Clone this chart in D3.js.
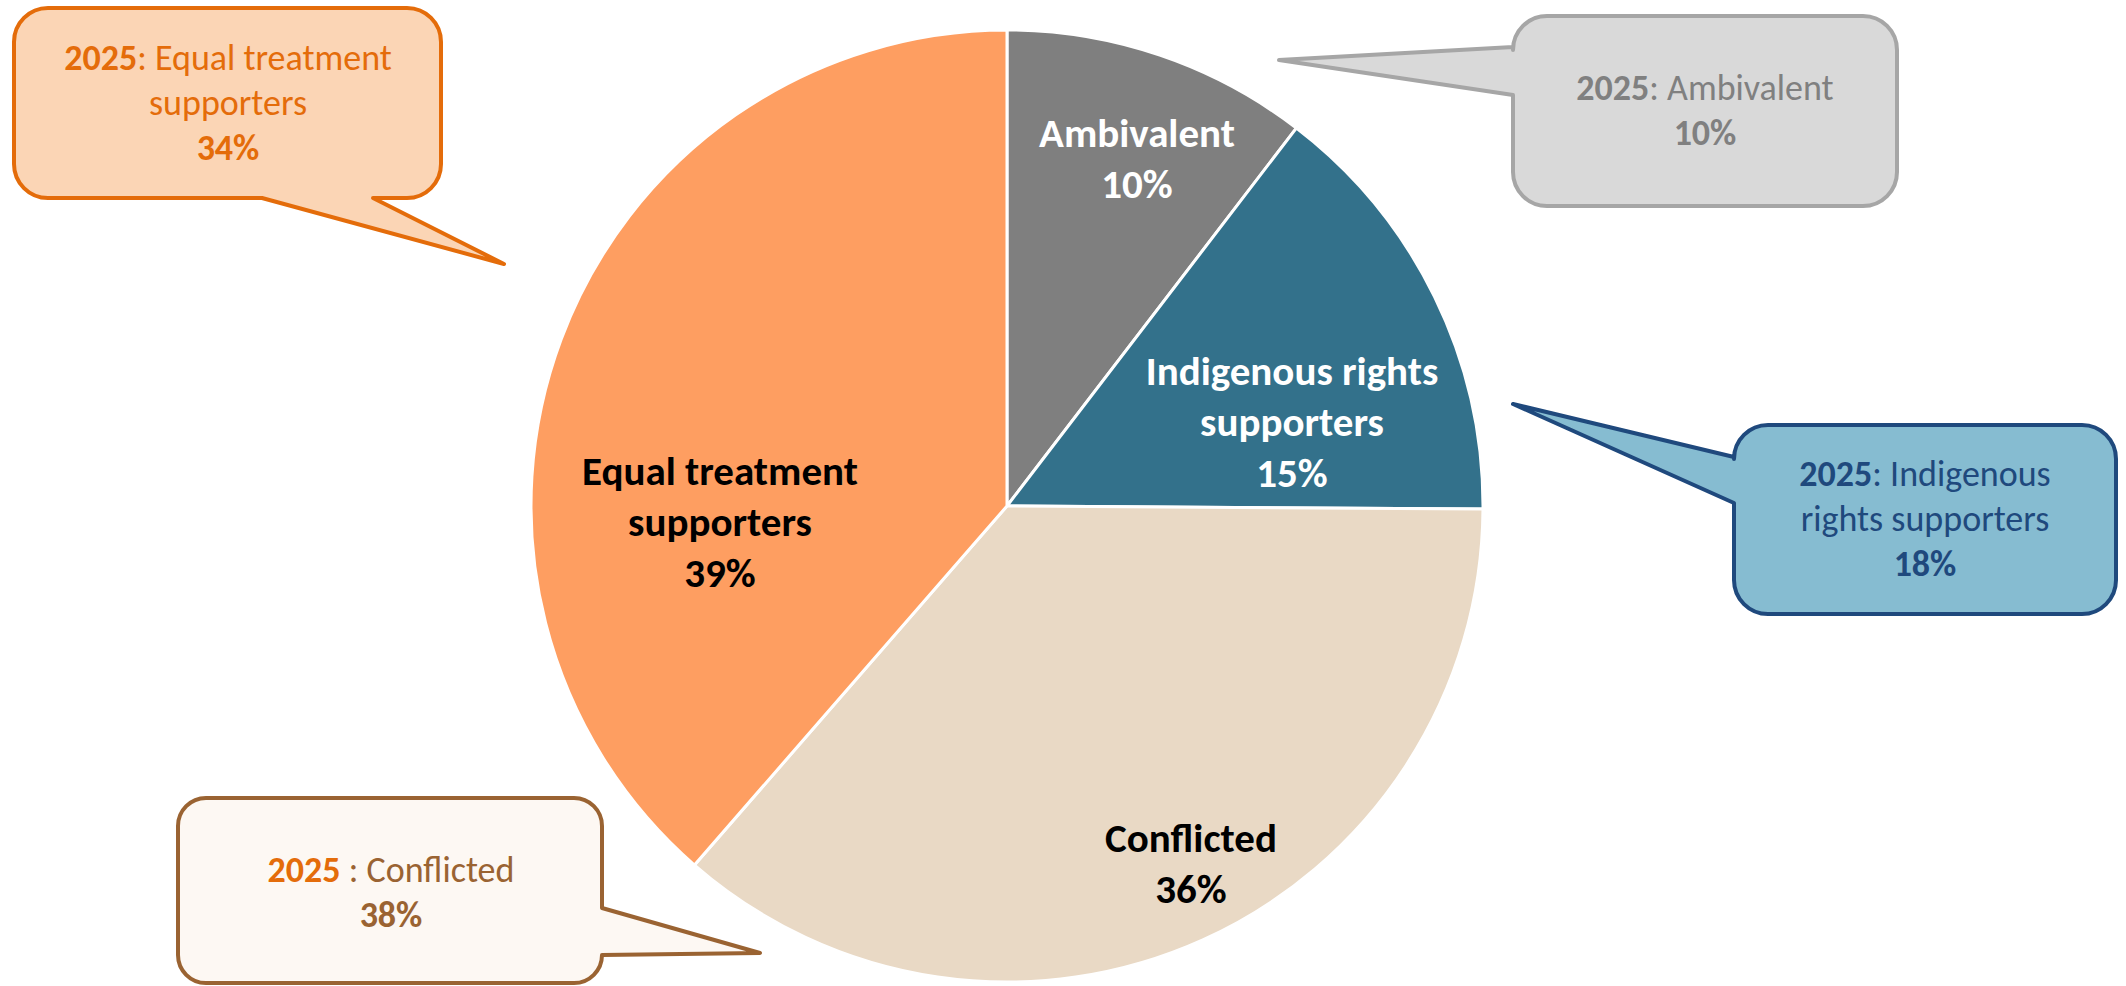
<!DOCTYPE html>
<html>
<head>
    <meta charset="utf-8">
    <style>
        body { margin: 0; background: #fff; }
        text { font-family: Carlito, Calibri, Lato, sans-serif; }
    </style>
</head>
<body>
    <script src="https://cdnjs.cloudflare.com/ajax/libs/d3/7.8.5/d3.min.js"></script>
    <script>
        // slices, clockwise from 12 o'clock (shares)
        var categories = ["Ambivalent", "Indigenous rights\nsupporters", "Conflicted", "Equal treatment\nsupporters"];
        var shares = [10.4, 14.7, 36.3, 38.6];
        var sliceColors = ["#7f7f7f", "#33718b", "#e9d9c5", "#fe9e61"];
        var labelColors = ["#ffffff", "#ffffff", "#000000", "#000000"];

        // 2025 comparison callouts
        var calloutYear = "2025";
        var calloutNames = ["Equal treatment\nsupporters", "Ambivalent", "Indigenous\nrights supporters", "Conflicted"];
        var calloutShares = [34, 10, 18, 38];

        var width = 2126, height = 986;
        var cx = 1007, cy = 506, radius = 476;
        var lineStep = 51;

        // first baseline of each slice label (absolute)
        var labelAnchors = [[1137, 147], [1292, 385], [1191, 852], [720, 485]];

        var svg = d3.select("body").append("svg")
            .attr("width", width)
            .attr("height", height);

        var pie = d3.pie().sort(null).value(function (d) { return d; });
        var arc = d3.arc().innerRadius(0).outerRadius(radius);

        var slices = pie(shares);

        svg.append("g")
            .attr("transform", "translate(" + cx + "," + cy + ")")
            .selectAll("path")
            .data(slices)
            .enter()
            .append("path")
            .attr("d", arc)
            .attr("fill", function (d, i) { return sliceColors[i]; })
            .attr("stroke", "#ffffff")
            .attr("stroke-width", 3)
            .attr("stroke-linejoin", "round");

        var labels = svg.append("g")
            .selectAll("text")
            .data(slices)
            .enter()
            .append("text")
            .attr("text-anchor", "middle")
            .attr("font-size", 41)
            .attr("font-weight", "bold")
            .attr("fill", function (d, i) { return labelColors[i]; });

        labels.each(function (d, i) {
            var lines = categories[i].split("\n").concat([Math.round(d.data) + "%"]);
            var t = d3.select(this);
            lines.forEach(function (line, k) {
                t.append("tspan")
                    .attr("x", labelAnchors[i][0])
                    .attr("y", labelAnchors[i][1] + k * lineStep)
                    .text(line);
            });
        });

        // callout shapes
        var boxes = [
            { x0: 14, y0: 8, x1: 441, y1: 198, r: 34, side: "bottom", t0: 262, t1: 373, tip: [504, 264],
              fill: "#fbd5b5", stroke: "#e46c0a", text: "#e46c0a", year: "#e46c0a", tx: 228, ty: 70, sep: ": " },
            { x0: 1513, y0: 16, x1: 1897, y1: 206, r: 34, side: "left", t0: 47, t1: 95, tip: [1279, 60],
              fill: "#d9d9d9", stroke: "#a6a6a6", text: "#808080", year: "#808080", tx: 1705, ty: 100, sep: ": " },
            { x0: 1734, y0: 425, x1: 2116, y1: 614, r: 34, side: "left", t0: 457, t1: 503, tip: [1513, 404],
              fill: "#86bcd1", stroke: "#1f497d", text: "#1f497d", year: "#1f497d", tx: 1925, ty: 486, sep: ": " },
            { x0: 178, y0: 798, x1: 602, y1: 983, r: 28, side: "right", t0: 908, t1: 955, tip: [760, 953],
              fill: "#fdf8f3", stroke: "#9a6332", text: "#9a6332", year: "#e46c0a", tx: 391, ty: 882, sep: " : " }
        ];

        function calloutPath(b) {
            var p = d3.path();
            p.moveTo(b.x0 + b.r, b.y0);
            p.lineTo(b.x1 - b.r, b.y0);
            p.arcTo(b.x1, b.y0, b.x1, b.y0 + b.r, b.r);
            if (b.side === "right") {
                p.lineTo(b.x1, b.t0);
                p.lineTo(b.tip[0], b.tip[1]);
                p.lineTo(b.x1, b.t1);
            }
            p.lineTo(b.x1, b.y1 - b.r);
            p.arcTo(b.x1, b.y1, b.x1 - b.r, b.y1, b.r);
            if (b.side === "bottom") {
                p.lineTo(b.t1, b.y1);
                p.lineTo(b.tip[0], b.tip[1]);
                p.lineTo(b.t0, b.y1);
            }
            p.lineTo(b.x0 + b.r, b.y1);
            p.arcTo(b.x0, b.y1, b.x0, b.y1 - b.r, b.r);
            if (b.side === "left") {
                p.lineTo(b.x0, b.t1);
                p.lineTo(b.tip[0], b.tip[1]);
                p.lineTo(b.x0, b.t0);
            }
            p.lineTo(b.x0, b.y0 + b.r);
            p.arcTo(b.x0, b.y0, b.x0 + b.r, b.y0, b.r);
            p.closePath();
            return p.toString();
        }

        var callouts = svg.append("g")
            .selectAll("g")
            .data(boxes)
            .enter()
            .append("g");

        callouts.append("path")
            .attr("d", calloutPath)
            .attr("fill", function (b) { return b.fill; })
            .attr("stroke", function (b) { return b.stroke; })
            .attr("stroke-width", 4)
            .attr("stroke-linejoin", "round");

        callouts.each(function (b, i) {
            var names = calloutNames[i].split("\n");
            var t = d3.select(this).append("text")
                .attr("text-anchor", "middle")
                .attr("font-size", 36)
                .attr("fill", b.text);
            var first = t.append("tspan").attr("x", b.tx).attr("y", b.ty);
            first.append("tspan").attr("font-weight", "bold").attr("fill", b.year).text(calloutYear);
            first.append("tspan").text(b.sep + names[0]);
            var k = 1;
            names.slice(1).forEach(function (n) {
                t.append("tspan").attr("x", b.tx).attr("y", b.ty + k * 45).text(n);
                k++;
            });
            t.append("tspan").attr("x", b.tx).attr("y", b.ty + k * 45)
                .attr("font-weight", "bold").text(calloutShares[i] + "%");
        });
    </script>
</body>
</html>
